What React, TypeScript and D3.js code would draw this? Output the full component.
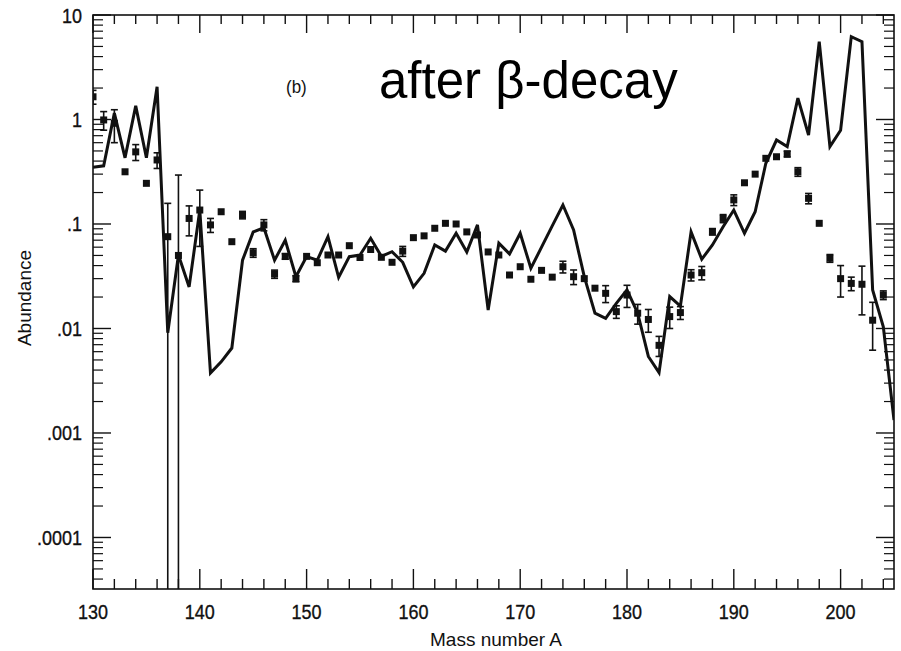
import React from "react";
import * as d3 from "d3";

// Model curve (solid line): mass number and abundance
const modelA: number[] = [
  130, 131, 132, 133, 134, 135, 136, 137, 138, 139, 140, 141, 142, 143, 144, 145, 146, 147, 148, 149,
  150, 151, 152, 153, 154, 155, 156, 157, 158, 159, 160, 161, 162, 163, 164, 165, 166, 167, 168, 169,
  170, 171, 172, 173, 174, 175, 176, 177, 178, 179, 180, 181, 182, 183, 184, 185, 186, 187, 188, 189,
  190, 191, 192, 193, 194, 195, 196, 197, 198, 199, 200, 201, 202, 203, 204, 205,
];
const modelY: number[] = [
  0.35, 0.36, 1.15, 0.43, 1.35, 0.43, 2.06, 0.0091, 0.0505, 0.025, 0.136, 0.00375, 0.0048, 0.0065, 0.045, 0.084, 0.092, 0.045, 0.07, 0.0313,
  0.0487, 0.045, 0.0756, 0.0309, 0.0487, 0.0505, 0.073, 0.049, 0.0543, 0.043, 0.025, 0.0337, 0.063, 0.055, 0.0815, 0.054, 0.098, 0.015, 0.0654, 0.0516,
  0.0815, 0.0377, 0.06, 0.096, 0.152, 0.0877, 0.0313, 0.014, 0.0125, 0.0174, 0.0234, 0.014, 0.0054, 0.00378, 0.0202, 0.0164, 0.084, 0.046, 0.063, 0.094,
  0.136, 0.0815, 0.131, 0.381, 0.636, 0.55, 1.6, 0.71, 5.55, 0.55, 0.79, 6.2, 5.55, 0.0234, 0.0104, 0.00133,
];

// Observed abundances (points with error bars)
const obsA: number[] = [
  130, 131, 132, 133, 134, 135, 136, 137, 138, 139, 140, 141, 142, 143, 144, 145, 146, 147, 148, 149,
  150, 151, 152, 153, 154, 155, 156, 157, 158, 159, 160, 161, 162, 163, 164, 165, 166, 167, 168, 169,
  170, 171, 172, 173, 174, 175, 176, 177, 178, 179, 180, 181, 182, 183, 184, 185, 186, 187, 188, 189,
  190, 191, 192, 193, 194, 195, 196, 197, 198, 199, 200, 201, 202, 203, 204,
];
const obsY: number[] = [
  1.65, 0.99, 0.92, 0.316, 0.49, 0.245, 0.41, 0.0756, 0.05, 0.113, 0.136, 0.098, 0.131, 0.0677, 0.122, 0.053, 0.098, 0.0332, 0.049, 0.03,
  0.049, 0.0426, 0.0505, 0.0505, 0.062, 0.0478, 0.057, 0.048, 0.043, 0.055, 0.074, 0.077, 0.091, 0.1015, 0.1, 0.084, 0.0785, 0.054, 0.0505, 0.0325,
  0.039, 0.0296, 0.036, 0.031, 0.039, 0.0313, 0.03, 0.0243, 0.0217, 0.0145, 0.0209, 0.014, 0.0122, 0.0069, 0.013, 0.0142, 0.0325, 0.0342, 0.0844, 0.113,
  0.17, 0.248, 0.3, 0.425, 0.44, 0.468, 0.316, 0.176, 0.1015, 0.047, 0.03, 0.027, 0.0265, 0.012, 0.0209,
];
const obsErr: number[] = [
  0.25, 0.2, 0.32, 0, 0.085, 0, 0.07, 0.082, 0.244, 0.036, 0.075, 0.015, 0, 0, 0.01, 0.005, 0.012, 0.003, 0.003, 0.002,
  0, 0, 0, 0, 0, 0, 0, 0, 0, 0.006, 0, 0, 0, 0, 0, 0, 0, 0, 0, 0,
  0, 0, 0, 0, 0.005, 0.005, 0, 0, 0.004, 0.002, 0.005, 0.003, 0.003, 0.0015, 0.003, 0.002, 0.004, 0.005, 0.006, 0.01,
  0.02, 0, 0, 0, 0, 0.03, 0.03, 0.02, 0, 0.004, 0.01, 0.004, 0.013, 0.0058, 0.002,
];

const xTickLabels: number[] = [130, 140, 150, 160, 170, 180, 190, 200];
const yTickValues: number[] = [10, 1, 0.1, 0.01, 0.001, 0.0001];
const yTickLabels: string[] = ["10", "1", ".1", ".01", ".001", ".0001"];

const W = 901;
const H = 651;
const L = 93, R = 894, T = 15, B = 589;
const INK = "#111";
const FONT = "'Liberation Sans', Arial, Helvetica, sans-serif";

export default function App() {
  const x = d3.scaleLinear().domain([130, 205]).range([L, R]);
  const yMin = Math.pow(10, -4.493);
  const y = d3.scaleLog().domain([yMin, 10]).range([B, T]);

  const line = d3
    .line<number>()
    .x((_, i) => x(modelA[i]))
    .y((d) => y(d));

  const xMinor = d3.range(130, 206, 2).filter((v) => v % 10 !== 0);
  const xMajor = d3.range(130, 206, 10);
  const yMinor: number[] = [];
  for (let e = -5; e <= 0; e++) {
    for (let m = 2; m <= 9; m++) {
      const v = m * Math.pow(10, e);
      if (v >= yMin && v <= 10) yMinor.push(v);
    }
  }

  const sY = 1.15;

  return (
    <svg width={W} height={H} style={{ position: "absolute", left: 0, top: 0, background: "#fff" }}>
      <defs>
        <clipPath id="plot">
          <rect x={L} y={T} width={R - L} height={B - T} />
        </clipPath>
      </defs>
      <rect x={0} y={0} width={W} height={H} fill="#fff" />

      {/* frame */}
      <rect x={L} y={T} width={R - L} height={B - T} fill="none" stroke={INK} strokeWidth={1.6} />

      {/* x ticks bottom & top */}
      {xMinor.map((v) => (
        <g key={"xm" + v} stroke={INK} strokeWidth={1.4}>
          <line x1={x(v)} x2={x(v)} y1={B} y2={B - 10} />
          <line x1={x(v)} x2={x(v)} y1={T} y2={T + 9} />
        </g>
      ))}
      {xMajor.map((v) => (
        <g key={"xM" + v} stroke={INK} strokeWidth={1.4}>
          <line x1={x(v)} x2={x(v)} y1={B} y2={B - 20} />
          <line x1={x(v)} x2={x(v)} y1={T} y2={T + 18} />
        </g>
      ))}

      {/* y ticks left & right */}
      {yMinor.map((v, i) => (
        <g key={"ym" + i} stroke={INK} strokeWidth={1.2}>
          <line x1={L} x2={L + 10} y1={y(v)} y2={y(v)} />
          <line x1={R} x2={R - 10} y1={y(v)} y2={y(v)} />
        </g>
      ))}
      {yTickValues.map((v, i) => (
        <g key={"yM" + i} stroke={INK} strokeWidth={1.4}>
          <line x1={L} x2={L + 18} y1={y(v)} y2={y(v)} />
          <line x1={R} x2={R - 18} y1={y(v)} y2={y(v)} />
        </g>
      ))}

      {/* tick labels */}
      {xTickLabels.map((v) => (
        <text
          key={"xl" + v}
          transform={`translate(${x(v)},619) scale(1,${sY})`}
          textAnchor="middle"
          fontFamily={FONT}
          fontSize={18}
          fill={INK}
          stroke={INK}
          strokeWidth={0.3}
        >
          {v}
        </text>
      ))}
      {yTickValues.map((v, i) => (
        <text
          key={"yl" + i}
          transform={`translate(82,${y(v) + 7.5}) scale(1,${sY})`}
          textAnchor="end"
          fontFamily={FONT}
          fontSize={18}
          fill={INK}
          stroke={INK}
          strokeWidth={0.3}
        >
          {yTickLabels[i]}
        </text>
      ))}

      {/* axis titles */}
      <text
        transform={`translate(31,298) rotate(-90)`}
        textAnchor="middle"
        fontFamily={FONT}
        fontSize={19}
        fill={INK}
      >
        Abundance
      </text>
      <text x={496} y={646} textAnchor="middle" fontFamily={FONT} fontSize={19} fill={INK}>
        Mass number A
      </text>

      <g clipPath="url(#plot)">
        {/* error bars */}
        {obsA.map((a, i) => {
          const e = obsErr[i];
          if (!e) return null;
          const cx = x(a);
          const hi = obsY[i] + e;
          const lo = obsY[i] - e;
          const yHi = y(hi);
          const yLo = lo > yMin ? y(lo) : B + 5;
          return (
            <g key={"e" + i} stroke={INK} strokeWidth={1.6}>
              <line x1={cx} x2={cx} y1={yHi} y2={yLo} />
              <line x1={cx - 3.5} x2={cx + 3.5} y1={yHi} y2={yHi} />
              {lo > yMin && <line x1={cx - 3.5} x2={cx + 3.5} y1={yLo} y2={yLo} />}
            </g>
          );
        })}
        {/* markers */}
        {obsA.map((a, i) => (
          <rect key={"p" + i} x={x(a) - 3.5} y={y(obsY[i]) - 3.5} width={7} height={7} fill={INK} />
        ))}
        {/* model line */}
        <path d={line(modelY) || ""} fill="none" stroke={INK} strokeWidth={3} strokeLinejoin="miter" />
      </g>

      <text
        transform={`translate(286,93) scale(1,1.1)`}
        fontFamily={FONT}
        fontSize={17}
        fill={INK}
      >
        (b)
      </text>
      <text x={379} y={98} fontFamily={FONT} fontSize={51} fill="#000">
        after β-decay
      </text>
    </svg>
  );
}
